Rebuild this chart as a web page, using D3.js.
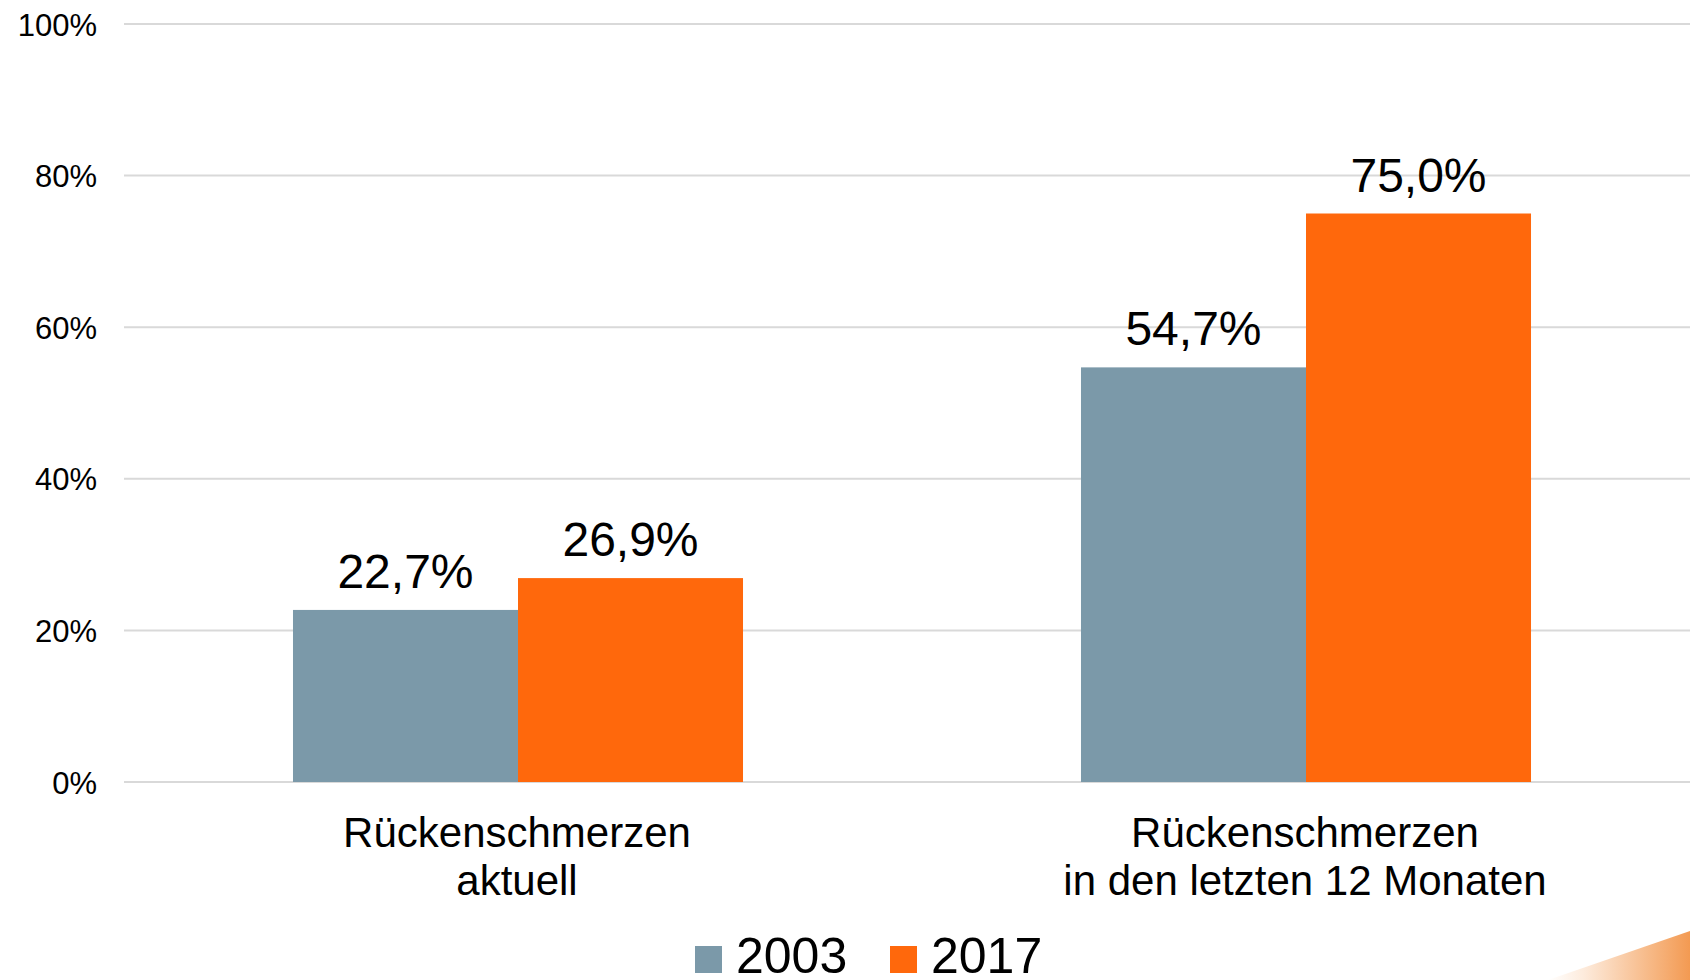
<!DOCTYPE html>
<html>
<head>
<meta charset="utf-8">
<script src="https://cdn.jsdelivr.net/npm/d3@7"></script>
<style>
  html, body { margin: 0; padding: 0; background: #fff; }
  svg { display: block; }
  text { font-family: "Liberation Sans", Arial, Helvetica, sans-serif; fill: #000; }
</style>
</head>
<body>
<svg id="chart" width="1690" height="980"></svg>
<script>
// ---- data ----
const categories = [["Rückenschmerzen", "aktuell"], ["Rückenschmerzen", "in den letzten 12 Monaten"]];
const categoryKeys = ["aktuell", "12monate"];
const seriesNames = ["2003", "2017"];
const values2003 = [22.7, 54.7];
const values2017 = [26.9, 75.0];
const yTicks = [0, 20, 40, 60, 80, 100];
const seriesColors = ["#7B99A9", "#FF680C"];

// ---- layout ----
const svg = d3.select("#chart");
const W = 1690, H = 980;
const plotLeft = 124, plotRight = 1700, plotTop = 24, plotBottom = 782;

const y = d3.scaleLinear().domain([0, 100]).range([plotBottom, plotTop]);
const pad = 0.4289;
const x0 = d3.scaleBand().domain(categoryKeys).range([plotLeft, plotRight])
  .paddingInner(pad).paddingOuter(pad / 2);
const x1 = d3.scaleBand().domain(seriesNames).range([0, x0.bandwidth()]).padding(0);
const color = d3.scaleOrdinal().domain(seriesNames).range(seriesColors);

const de = d3.formatLocale({decimal: ",", thousands: ".", grouping: [3], currency: ["", "€"]});
const fmt = de.format(".1f");

// corner decoration gradient
const defs = svg.append("defs");
const grad = defs.append("linearGradient").attr("id", "cornerGrad")
  .attr("x1", "0").attr("y1", "0").attr("x2", "1").attr("y2", "0");
grad.append("stop").attr("offset", "0%").attr("stop-color", "#FFFFFF");
grad.append("stop").attr("offset", "25%").attr("stop-color", "#FDEBDC");
grad.append("stop").attr("offset", "100%").attr("stop-color", "#F39A52");

// gridlines
svg.append("g").selectAll("line").data(yTicks).join("line")
  .attr("x1", plotLeft).attr("x2", W)
  .attr("y1", d => y(d)).attr("y2", d => y(d))
  .attr("stroke", "#D9D9D9").attr("stroke-width", 2);

// y axis labels
const yAxis = d3.axisLeft(y).tickValues(yTicks).tickFormat(d => d + "%").tickSize(0).tickPadding(0);
const gy = svg.append("g").attr("transform", "translate(97,0)").call(yAxis);
gy.select(".domain").remove();
gy.selectAll("text").style("font-size", "31px").attr("fill", "#000")
  .style("font-family", "'Liberation Sans', Arial, sans-serif").attr("dy", "0.36em");

// bars
const rows = categoryKeys.map((k, i) => ({key: k, vals: [
  {s: seriesNames[0], v: values2003[i]},
  {s: seriesNames[1], v: values2017[i]}
]}));

const groups = svg.append("g").selectAll("g").data(rows).join("g")
  .attr("transform", d => `translate(${x0(d.key)},0)`);

groups.selectAll("rect").data(d => d.vals).join("rect")
  .attr("x", d => x1(d.s))
  .attr("width", x1.bandwidth())
  .attr("y", d => y(d.v))
  .attr("height", d => y(0) - y(d.v))
  .attr("fill", d => color(d.s));

groups.selectAll("text.val").data(d => d.vals).join("text")
  .attr("class", "val")
  .attr("x", d => x1(d.s) + x1.bandwidth() / 2)
  .attr("y", d => y(d.v) - 22)
  .attr("text-anchor", "middle")
  .style("font-size", "48px")
  .text(d => fmt(d.v) + "%");

// category labels
const catG = svg.append("g");
categoryKeys.forEach((k, i) => {
  const cx = x0(k) + x0.bandwidth() / 2;
  const t = catG.append("text").attr("text-anchor", "middle").style("font-size", "42px");
  categories[i].forEach((line, j) => {
    t.append("tspan").attr("x", cx - 1).attr("y", 847 + j * 48).text(line);
  });
});

// legend
const legendX = [695, 890];
const leg = svg.append("g").selectAll("g").data(seriesNames).join("g")
  .attr("transform", (d, i) => `translate(${legendX[i]},946)`);
leg.append("rect").attr("width", 27).attr("height", 27).attr("fill", d => color(d));
leg.append("text").attr("x", 41).attr("y", 27).style("font-size", "50px").text(d => d);

// corner decoration
svg.append("path")
  .attr("d", "M1548,980 L1690,931 L1690,980 Z")
  .attr("fill", "url(#cornerGrad)");
</script>
</body>
</html>
